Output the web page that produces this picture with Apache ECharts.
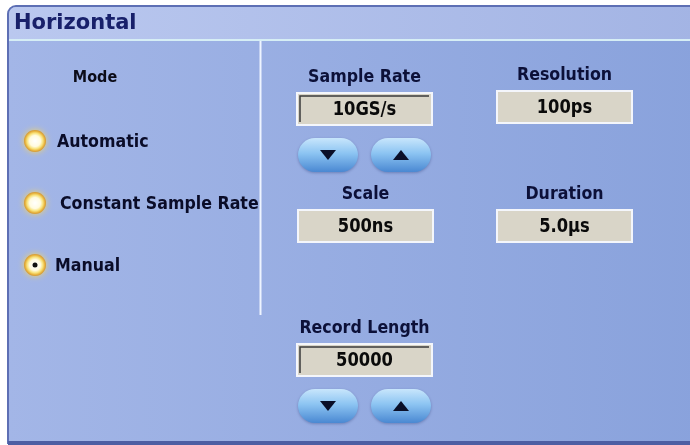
<!DOCTYPE html>
<html>
<head>
<meta charset="utf-8">
<script src="https://cdn.jsdelivr.net/npm/echarts@6/dist/echarts.min.js"></script>
<style>
  html, body { margin: 0; padding: 0; background: #fff; }
  #main { width: 690px; height: 445px; }
</style>
</head>
<body>
<div id="main"></div>
<script>
// panel content
var title = "Horizontal";
var modeTitle = "Mode";
var modes = ["Automatic", "Constant Sample Rate", "Manual"];
var selectedMode = 2;
var fieldLabels = ["Sample Rate", "Resolution", "Scale", "Duration", "Record Length"];
var fieldValues = ["10GS/s", "100ps", "500ns", "5.0\u00b5s", "50000"];
var fieldSunken = [true, false, false, false, true];
var fieldSpinner = [true, false, false, false, true];

// layout (x, y of value box top-left)
var boxPos = [[297, 93], [497, 91], [298, 210], [497, 210], [297, 344]];
var boxW = 135, boxH = 32;
var modePos = [[35, 141, 57], [35, 203, 60], [35, 265, 55]];

var FONT = "DejaVu Sans";
var chart = echarts.init(document.getElementById("main"));

var els = [];

// panel body
els.push({
  type: "rect",
  shape: { x: 8, y: 6, width: 690, height: 437, r: [8, 0, 0, 0] },
  style: {
    fill: new echarts.graphic.LinearGradient(0, 0, 1, 0, [
      { offset: 0, color: "#a3b6e7" },
      { offset: 1, color: "#89a2dc" }
    ]),
    stroke: "#5d6fb4",
    lineWidth: 2
  }
});
// title bar
els.push({
  type: "rect",
  shape: { x: 9, y: 7, width: 690, height: 32, r: [7, 0, 0, 0] },
  style: {
    fill: new echarts.graphic.LinearGradient(0, 0, 1, 0, [
      { offset: 0, color: "#bac8ef" },
      { offset: 1, color: "#a3b4e4" }
    ])
  }
});
els.push({
  type: "line",
  shape: { x1: 9, y1: 40, x2: 690, y2: 40 },
  style: { stroke: "#d6eef5", lineWidth: 2 }
});
// bottom edge
els.push({
  type: "rect",
  shape: { x: 8, y: 441, width: 690, height: 4 },
  style: { fill: "#4d5ea3" }
});
els.push({
  type: "text",
  x: 14, y: 24,
  style: {
    text: title, font: "bold 21px " + FONT, fill: "#18206a",
    verticalAlign: "middle"
  }
});
// divider
els.push({
  type: "line",
  shape: { x1: 260.5, y1: 41, x2: 260.5, y2: 315 },
  style: { stroke: "#eef4ff", lineWidth: 2 }
});

// mode group
els.push({
  type: "text",
  x: 95, y: 78, scaleX: 0.9,
  style: {
    text: modeTitle, font: "bold 16px " + FONT, fill: "#0c0c18",
    align: "center", verticalAlign: "middle"
  }
});
modes.forEach(function (m, i) {
  var p = modePos[i];
  els.push({
    type: "circle",
    shape: { cx: p[0], cy: p[1], r: 11 },
    style: {
      fill: new echarts.graphic.RadialGradient(0.5, 0.5, 0.5, [
        { offset: 0, color: "#ffffff" },
        { offset: 0.5, color: "#fffbe0" },
        { offset: 0.72, color: "#f8e27a" },
        { offset: 0.88, color: "#e8b440" },
        { offset: 1, color: "#cf9638" }
      ]),
      shadowBlur: 6,
      shadowColor: "rgba(250,215,90,0.9)"
    }
  });
  if (i === selectedMode) {
    els.push({
      type: "circle",
      shape: { cx: p[0], cy: p[1], r: 2.5 },
      style: { fill: "#111" }
    });
  }
  els.push({
    type: "text",
    x: p[2], y: p[1] + 1, scaleX: 0.88,
    style: {
      text: m, font: "bold 18px " + FONT, fill: "#0a0c28",
      verticalAlign: "middle"
    }
  });
});

function spinner(x, y) {
  var w = 60, h = 34;
  [[x, "down"], [x + 73, "up"]].forEach(function (b) {
    var bx = b[0];
    els.push({
      type: "rect",
      shape: { x: bx, y: y, width: w, height: h, r: 17 },
      style: {
        fill: new echarts.graphic.LinearGradient(0, 0, 0, 1, [
          { offset: 0, color: "#c8e6fc" },
          { offset: 0.45, color: "#8cc4f2" },
          { offset: 1, color: "#4a88d2" }
        ]),
        shadowBlur: 3,
        shadowColor: "rgba(40,60,120,0.4)",
        shadowOffsetY: 1
      }
    });
    var cx = bx + w / 2, cy = y + h / 2;
    var pts = b[1] === "down"
      ? [[cx - 8, cy - 5], [cx + 8, cy - 5], [cx, cy + 5]]
      : [[cx - 8, cy + 5], [cx + 8, cy + 5], [cx, cy - 5]];
    els.push({ type: "polygon", shape: { points: pts }, style: { fill: "#0a0f28" } });
  });
}

fieldLabels.forEach(function (lab, i) {
  var bx = boxPos[i][0], by = boxPos[i][1];
  var cx = bx + boxW / 2;
  els.push({
    type: "text",
    x: cx, y: by - 16, scaleX: 0.88,
    style: {
      text: lab, font: "bold 18px " + FONT, fill: "#0c1038",
      align: "center", verticalAlign: "middle"
    }
  });
  els.push({
    type: "rect",
    shape: { x: bx, y: by, width: boxW, height: boxH },
    style: { fill: "#d9d5c8", stroke: "#f4f6fb", lineWidth: 2 }
  });
  if (fieldSunken[i]) {
    els.push({
      type: "polyline",
      shape: { points: [[bx + 3, by + boxH - 3], [bx + 3, by + 3], [bx + boxW - 3, by + 3]] },
      style: { stroke: "#3a3a3a", lineWidth: 1.5, fill: null }
    });
  }
  els.push({
    type: "text",
    x: cx, y: by + boxH / 2 + 1, scaleX: 0.86,
    style: {
      text: fieldValues[i], font: "bold 19px " + FONT, fill: "#0a0a0a",
      align: "center", verticalAlign: "middle"
    }
  });
  if (fieldSpinner[i]) spinner(bx + 1, by + 45);
});

chart.setOption({
  animation: false,
  graphic: { elements: els }
});
window.onresize = function () { chart.resize(); };
</script>
</body>
</html>
